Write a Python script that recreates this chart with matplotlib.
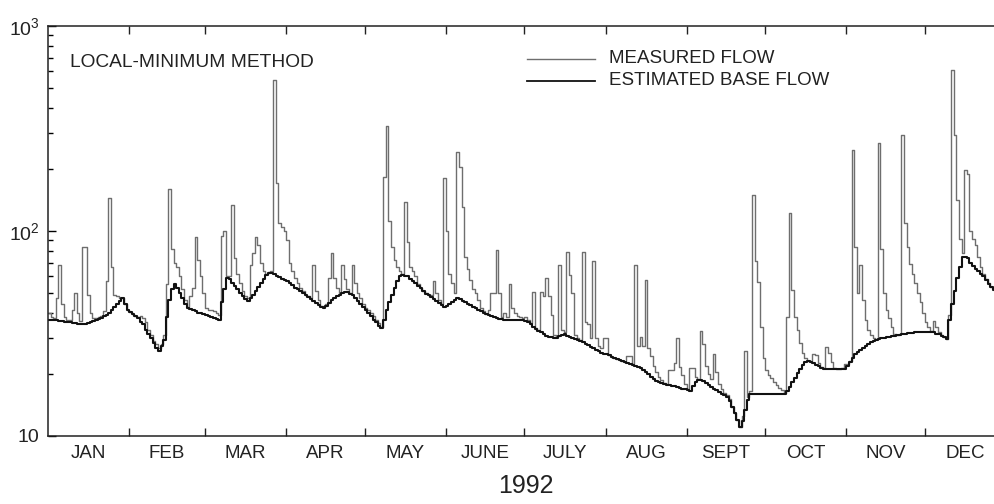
import numpy as np
import matplotlib
matplotlib.use('Agg')
import matplotlib.pyplot as plt
from matplotlib.lines import Line2D
from matplotlib.ticker import NullFormatter

plt.rcParams['font.family'] = ['Liberation Sans', 'DejaVu Sans']
plt.rcParams['mathtext.default'] = 'regular'

# daily values, 1992 (cubic feet per second)
months = ['JAN', 'FEB', 'MAR', 'APR', 'MAY', 'JUNE',
          'JULY', 'AUG', 'SEPT', 'OCT', 'NOV', 'DEC']
month_len = [31, 29, 31, 30, 31, 30, 31, 31, 30, 31, 30, 31]

jan_meas = [40, 38, 37.5, 47, 68, 44, 38, 37, 37, 41, 50, 40, 36.5, 84, 84, 49, 40, 37.5, 37.5, 38,
            38.5, 40.5, 57, 145, 67, 49, 48, 47, 47, 44, 41]
feb_meas = [40.4, 39.5, 38.5, 38, 38.5, 37.5, 36, 33, 31, 29, 28, 27, 28, 31, 55, 160, 82, 70, 67, 60,
            52, 46, 42.5, 48, 53, 93, 72, 60, 50]
mar_meas = [42, 41, 41, 40.5, 40, 39, 95, 100, 60, 60, 134, 74, 62, 56, 51, 48, 47, 68, 78, 93,
            85, 70, 64, 62, 63, 64, 545, 171, 110, 105, 100]
apr_meas = [90, 70, 64, 59, 56, 53, 51, 49, 48, 47, 68, 51, 46, 43, 42.5, 44, 59, 78, 59, 53,
            50, 68, 58, 52, 50, 68, 56, 50, 47, 44]
may_meas = [42, 41, 40, 38.5, 37, 35.5, 34, 184, 325, 112, 84, 72, 67, 64, 62, 138, 88, 67, 64, 60,
            55, 52.5, 51, 50, 49, 49, 57, 50, 46, 44, 181]
jun_meas = [100, 62, 56, 50, 244, 206, 131, 75, 65, 57.5, 52, 50, 46, 42, 40.5, 39.5, 41, 50, 50, 81,
            50, 38, 40, 38, 55, 42, 40, 38.5, 38, 37.5]
jul_meas = [38, 37, 35.5, 50.6, 33.5, 33, 50.6, 48, 59, 48, 39, 31, 30.5, 68, 33, 32, 79, 61, 50, 31,
            30, 29.5, 79, 36, 35, 30, 71, 30, 27.5, 27, 30]
aug_meas = [30, 24.7, 24.4, 24.1, 23.8, 23.5, 23.2, 22.9, 24.5, 24.5, 22.4, 68, 27.5, 30.5, 27.5, 57.5,
            27, 24.5, 22, 20.5, 19.5, 18.7, 18.2, 18, 21, 21, 22.6, 30, 21.8, 19.8, 18]
sep_meas = [17, 21.5, 21.5, 19.5, 19, 32.5, 28, 22, 20, 19, 25, 20.5, 18, 17, 16.2, 15.8, 15.1, 13.9,
            12.9, 12, 11.1, 12.5, 26, 15.5, 16.5, 150, 71, 56.6, 34, 24]
oct_meas = [21, 19.8, 19.1, 18.4, 17.7, 17.1, 16.8, 16.3, 38, 122, 51.6, 38.2, 32.9, 28.3, 25.3, 24,
            23.3, 23.2, 25.1, 24.8, 22.8, 21.6, 21.4, 27.3, 25.3, 23, 21.5, 21.3, 21.3, 21.5, 22.5]
nov_meas = [22.5, 23.2, 248, 84, 50, 68, 46, 37, 33, 31, 30, 29.6, 268, 82, 50, 41, 37.5, 34, 31.5, 31.2,
            31.4, 294, 109, 84, 69, 62, 55.5, 50, 45, 40]
dec_meas = [36, 34, 32.5, 36.5, 34, 32, 31, 30.5, 29.8, 39, 610, 295, 142, 91, 78, 199, 190, 100, 91, 85,
            75, 67, 62, 58, 55.5, 53.5, 52]

jan_base = [37, 37, 36.8, 36.6, 36.4, 36.2, 36, 36, 35.8, 35.6, 35.4, 35.2, 35, 35, 35.3, 35.6, 36, 36.4,
            36.8, 37.2, 37.6, 38.3, 39, 40, 41.2, 42.5, 44, 45.5, 47, 44, 41]
feb_base = [40.4, 39.5, 38.5, 37.5, 36, 35, 33, 31.5, 30, 28.5, 27, 26, 27.5, 29.5, 38, 46, 52, 55, 53, 50,
            47, 44, 42, 41.5, 41, 40.5, 40, 39.7, 39.3]
mar_base = [39, 38.6, 38.2, 37.8, 37.4, 37, 45, 52, 59, 58, 56, 54, 52, 50, 48, 46.5, 45.5, 47, 49, 51,
            53.5, 56, 58.5, 61, 62.5, 62.5, 61.5, 60.5, 59.5, 58.5, 57.5]
apr_base = [57, 55.5, 54.3, 53, 52, 51, 49.8, 48.7, 47.5, 46.5, 45.5, 44.5, 43.5, 42.5, 42, 43.2, 44.5, 46,
            47, 48, 49, 50, 50.6, 50.3, 49.5, 48.5, 47, 45.5, 44, 42.5]
may_base = [41, 39.7, 38.5, 37, 35.8, 34.5, 33.5, 37, 41, 45, 49, 53, 57, 60, 61, 60.5, 60, 58.5, 57, 55.5,
            54, 52.5, 51, 49.5, 48.5, 47.5, 46.5, 45.5, 44.5, 43.5, 42.5]
jun_base = [43, 43.8, 44.8, 46, 47, 46.5, 45.8, 45, 44.2, 43.5, 42.8, 42, 41.3, 40.6, 40, 39.3, 38.8, 38.3,
            38, 37.7, 37.4, 37.1, 36.8, 36.6, 36.6, 36.7, 36.8, 36.9, 37, 37]
jul_base = [36.5, 36, 35, 34, 33.3, 32.6, 32, 31.3, 30.8, 30.5, 30.3, 30.2, 30.2, 30.6, 31.2, 31.3, 30.9,
            30.5, 30.1, 29.8, 29.4, 29, 28.6, 28.1, 27.7, 27.2, 26.8, 26.4, 26, 25.5, 25.2]
aug_base = [25, 24.7, 24.4, 24.1, 23.8, 23.5, 23.2, 22.9, 22.6, 22.4, 22.2, 22, 21.8, 21.5, 21, 20.5, 20,
            19.5, 19, 18.6, 18.3, 18.1, 17.9, 17.8, 17.7, 17.6, 17.5, 17.3, 17.1, 17, 16.9]
sep_base = [16.8, 16.6, 17.5, 18.3, 18.8, 18.8, 18.5, 18.1, 17.7, 17.3, 17, 16.7, 16.4, 16.1, 15.8, 15.5,
            14.8, 13.9, 12.9, 12, 11.1, 11.8, 13.4, 15, 16.1, 16.1, 16.1, 16.1, 16.1, 16.1]
oct_base = [16.1, 16.1, 16.1, 16.1, 16.1, 16.1, 16.1, 16.1, 16.5, 17.3, 18.3, 19.2, 20.2, 21.2, 22.3, 23,
            23.1, 23, 22.6, 22.3, 21.9, 21.5, 21.2, 21.2, 21.2, 21.2, 21.2, 21.2, 21.2, 21.2, 21.2]
nov_base = [22, 23, 24, 25, 25.8, 26.4, 27, 27.5, 28.1, 28.6, 29.1, 29.4, 29.7, 29.9, 30.1, 30.3, 30.5,
            30.7, 30.9, 31, 31.2, 31.4, 31.6, 31.7, 31.8, 31.9, 32, 32.2, 32.3, 32.3]
dec_base = [32.3, 32.2, 32.1, 32, 31.6, 31.3, 30.8, 30.3, 29.7, 37, 44, 51, 59, 67, 75, 74.5, 73.5, 70,
            67.5, 65.5, 63.5, 61.5, 60, 57.5, 55, 53.5, 51.5]

measured = np.concatenate([jan_meas, feb_meas, mar_meas, apr_meas, may_meas, jun_meas,
                           jul_meas, aug_meas, sep_meas, oct_meas, nov_meas, dec_meas])
base = np.concatenate([jan_base, feb_base, mar_base, apr_base, may_base, jun_base,
                       jul_base, aug_base, sep_base, oct_base, nov_base, dec_base])

meas_col = '#6e6e6e'
base_col = '#111111'
txt_col = '#222222'

fig = plt.figure(figsize=(9.95, 5.04), dpi=100)
# axes runs a little past the right edge, the original is cropped there
ax = fig.add_axes([48 / 995, 68 / 504, 958 / 995, 410 / 504])

days = np.arange(len(measured) + 1)
ax.step(days, np.append(measured, measured[-1]), where='post', color=meas_col, lw=1.0)
ax.step(days, np.append(base, base[-1]), where='post', color=base_col, lw=1.5)

ax.set_yscale('log')
ax.set_ylim(10, 1000)
ax.set_xlim(0, 366)

# month boundaries as ticks, names centred in each month
starts = np.cumsum([0] + month_len[:-1])
ax.set_xticks(starts[1:])
ax.set_xticklabels([])
ax.set_xticks(starts + np.array(month_len) / 2, minor=True)
ax.set_xticklabels(months, minor=True)
ax.tick_params(axis='x', which='major', direction='in', length=6, width=1,
               top=True, bottom=True, color='#222222')
ax.tick_params(axis='x', which='minor', length=0, pad=6.5, labelsize=13.5,
               labelcolor=txt_col)

ax.set_yticks([10, 100, 1000])
ax.set_yticklabels(['10', '$10^2$', '$10^3$'])
ax.yaxis.set_minor_formatter(NullFormatter())
ax.tick_params(axis='y', which='major', direction='in', length=6, width=1,
               labelsize=14, pad=6, labelcolor=txt_col, right=False)
ax.tick_params(axis='y', which='minor', direction='in', length=3.5, width=1, right=False)

for s in ['left', 'top', 'bottom']:
    ax.spines[s].set_linewidth(1.1)
    ax.spines[s].set_color('#222222')
ax.spines['right'].set_visible(False)

# labels and legend
fig.text(70 / 995, 1 - 67 / 504, 'LOCAL-MINIMUM METHOD', fontsize=13.8,
         va='baseline', color=txt_col)
fig.add_artist(Line2D([527 / 995, 595 / 995], [1 - 59 / 504] * 2, color=meas_col, lw=1.0))
fig.add_artist(Line2D([527 / 995, 595 / 995], [1 - 81 / 504] * 2, color=base_col, lw=1.3))
fig.text(609 / 995, 1 - 63 / 504, 'MEASURED FLOW', fontsize=13.5, va='baseline', color=txt_col)
fig.text(609 / 995, 1 - 85 / 504, 'ESTIMATED BASE FLOW', fontsize=13.5, va='baseline', color=txt_col)
fig.text(526 / 995, 1 - 493 / 504, '1992', fontsize=18, ha='center', va='baseline', color=txt_col)

fig.savefig('out.png', dpi=100)
